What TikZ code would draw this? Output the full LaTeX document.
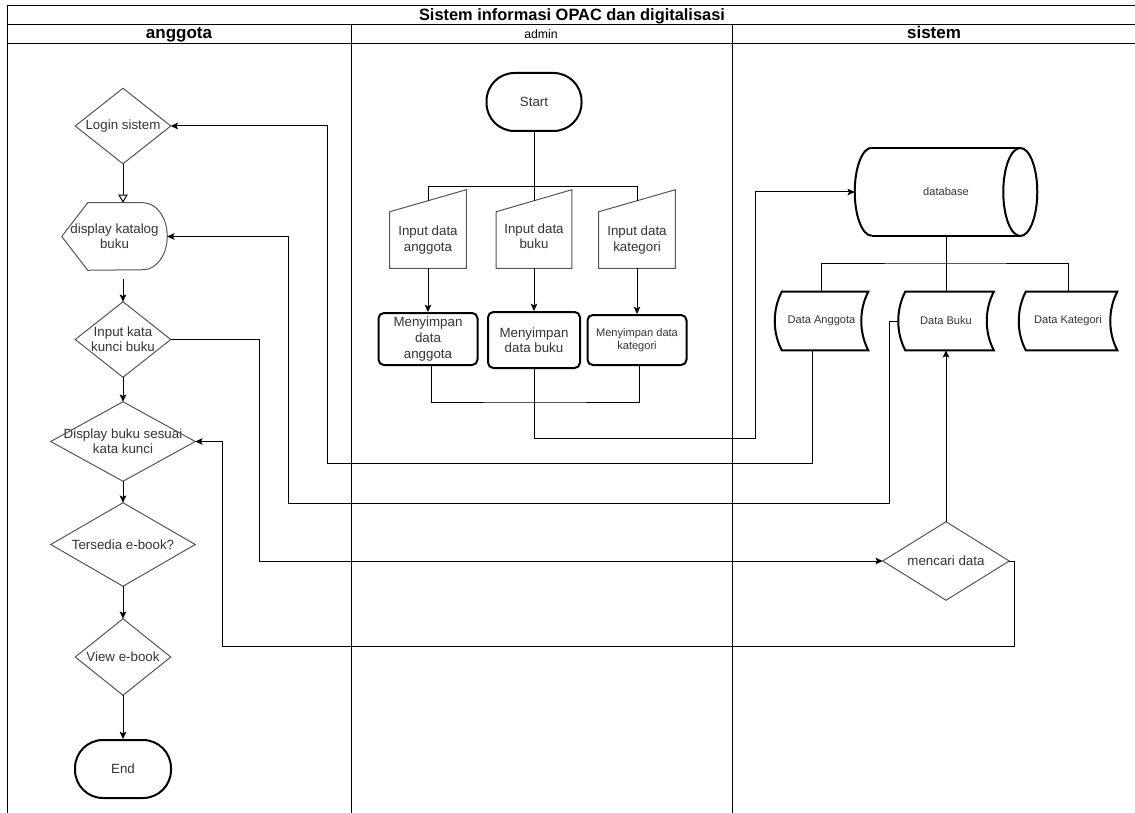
\documentclass[tikz,border=0pt]{standalone}
\usepackage{fontspec}
\setmainfont{Liberation Sans}
\usetikzlibrary{arrows.meta,calc}
\definecolor{txt}{HTML}{333333}
\definecolor{brd}{HTML}{555555}
\tikzset{
  lbl/.style={inner sep=0pt, text=txt, font=\fontsize{10}{11.5}\selectfont, align=center},
  small/.style={lbl, font=\fontsize{8.3}{10}\selectfont},
  sz/.style 2 args={minimum width=#1*0.75pt, minimum height=#2*0.75pt},
  thinb/.style={draw=brd, line width=0.75pt},
  boldb/.style={draw=black, line width=1.5pt},
  conn/.style={draw=black, line width=0.75pt},
  arr/.style={conn, -{Stealth[length=5.5pt,width=5pt,inset=1.2pt]}},
  openarr/.style={conn, -{Triangle[open,length=6pt,width=7pt]}},
  lanel/.style={draw=black, line width=0.75pt},
  hdr/.style={inner sep=0pt, text=black, anchor=base, font=\bfseries\fontsize{12.75}{14}\selectfont}
}
\begin{document}
\begin{tikzpicture}[x=0.75pt,y=-0.75pt]
\useasboundingbox (0,0) rectangle (1135,813);
% swimlane frame
\draw[lanel] (1136,6) -- (7,6) -- (7,813);
\draw[lanel] (7,25) -- (1136,25);
\draw[lanel] (7,44) -- (1136,44);
\draw[lanel] (351,25) -- (351,813);
\draw[lanel] (732,25) -- (732,813);
\node[hdr, font=\bfseries\fontsize{12.3}{14}\selectfont] (title) at (572,21) {Sistem informasi OPAC dan digitalisasi};
\node[hdr] (lane1) at (179,38.5) {anggota};
\node[hdr, font=\fontsize{9.2}{11}\selectfont] (lane2) at (541,39) {admin};
\node[hdr] (lane3) at (934,38.5) {sistem};

% ---------- anggota lane ----------
\node[lbl, sz={95}{75}] (login) at (123,126) {Login sistem};
\node[lbl, sz={105}{67}] (disp) at (114.5,236.5) {display katalog\\buku};
\node[lbl, sz={95}{75}] (kunci) at (123,339.5) {Input kata\\kunci buku};
\node[lbl, sz={144}{79}] (dbuku) at (123,441.5) {Display buku sesuai\\kata kunci};
\node[lbl, sz={144}{83}] (ebook) at (123,544.5) {Tersedia e-book?};
\node[lbl, sz={95}{76}] (view) at (123,657) {View e-book};
\node[lbl, sz={96}{58}, boldb, rounded corners=21pt] (end) at (123,769) {End};

\foreach \n in {login,kunci,dbuku,ebook,view}
  \draw[thinb] (\n.west) -- (\n.north) -- (\n.east) -- (\n.south) -- cycle;
\draw[thinb] (disp.west) -- ([xshift=19.5pt]disp.north west) -- ([xshift=-18pt]disp.north east)
  arc[start angle=90, end angle=-90, x radius=18pt, y radius=25.125pt]
  -- ([xshift=19.5pt]disp.south west) -- cycle;

% ---------- admin lane ----------
\node[lbl, sz={95}{58}, boldb, rounded corners=21pt] (start) at (534,102) {Start};
\node[sz={76}{78}, inner sep=0pt] (in1) at (428,229) {};
\node[sz={75}{78}, inner sep=0pt] (in2) at (534,229) {};
\node[sz={76}{78}, inner sep=0pt] (in3) at (637,229) {};
\foreach \n in {in1,in2,in3}
  \draw[thinb] ([yshift=-16.5pt]\n.north west) -- (\n.north east) -- (\n.south east) -- (\n.south west) -- cycle;
\node[lbl] (in1txt) at (428,240) {Input data\\anggota};
\node[lbl] (in2txt) at (534,236) {Input data\\buku};
\node[lbl] (in3txt) at (637,240) {Input data\\kategori};

\node[lbl, sz={99}{52}, boldb, rounded corners=4pt, font=\fontsize{10}{12}\selectfont] (s1) at (428,339) {Menyimpan\\data\\anggota};
\node[lbl, sz={92}{56}, boldb, rounded corners=4pt] (s2) at (534,340) {Menyimpan\\data buku};
\node[small, sz={99}{50}, boldb, rounded corners=4pt] (s3) at (637,340) {Menyimpan data\\kategori};

% ---------- sistem lane ----------
\node[small, sz={182}{88}] (db) at (946,192) {database};
\draw[boldb] ([xshift=12.75pt]db.north west) -- ([xshift=-12.75pt]db.north east);
\draw[boldb] ([xshift=12.75pt]db.south west) -- ([xshift=-12.75pt]db.south east);
\draw[boldb] ([xshift=12.75pt]db.north west) arc[start angle=90, end angle=270, x radius=12.75pt, y radius=33pt];
\draw[boldb] ([xshift=-12.75pt]db.east) ellipse[x radius=12.75pt, y radius=33pt];

\node[small, sz={93}{58}] (da) at (821.5,321) {Data Anggota};
\node[small, sz={95}{58}] (dbk) at (946,321) {Data Buku};
\node[small, sz={98}{58}] (dk) at (1068,321) {Data Kategori};
\foreach \n in {da,dbk,dk}
  \draw[boldb] ([xshift=5.25pt]\n.north west) -- (\n.north east)
    .. controls +(-7pt,-13.5pt) and +(-7pt,13.5pt) .. (\n.south east)
    -- ([xshift=5.25pt]\n.south west)
    .. controls +(-7pt,13.5pt) and +(-7pt,-13.5pt) .. ([xshift=5.25pt]\n.north west) -- cycle;

\node[lbl, sz={126}{78}] (cari) at (946,561) {mencari data};
\draw[thinb] (cari.west) -- (cari.north) -- (cari.east) -- (cari.south) -- cycle;

% ---------- connectors ----------
\draw[openarr] (login.south) -- (login.south |- disp.north);
\coordinate (dout) at (123,279);
\draw[arr] (dout) -- (kunci.north);
\draw[arr] (kunci.south) -- (dbuku.north);
\draw[arr] (dbuku.south) -- (ebook.north);
\draw[arr] (ebook.south) -- (view.north);
\draw[arr] (view.south) -- (end.north);

\coordinate (split) at (534,187);
\draw[conn] (start.south) -- (split);
\draw[conn] (split) -| ($(in1.north)+(0,11)$);
\draw[conn] (split) -- ($(in2.north)+(0,11)$);
\draw[conn] (split) -| ($(in3.north)+(0,11)$);
\draw[arr] (in1.south) -- (s1.north);
\draw[arr] (in2.south) -- (s2.north);
\draw[arr] (in3.south) -- (s3.north);

\coordinate (join) at (534,402);
\draw[conn] ([xshift=2.25pt]s1.south) |- (join) -| ([xshift=1.5pt]s3.south);
\coordinate (b1) at (755,438);
\draw[arr] (s2.south) |- (b1) |- (db.west);

\coordinate (dbj) at (946,263);
\draw[conn] (db.south) -- (dbk.north);
\draw[conn] (da.north) |- (dbj) -| (dk.north);

\coordinate (r1) at (327,463);
\draw[arr] ([xshift=-7pt]da.south) |- (r1) |- (login.east);
\coordinate (r2a) at (889,503);
\coordinate (r2b) at (288,503);
\draw[arr] (dbk.west) -| (r2a) -- (r2b) |- (disp.east);
\coordinate (r3) at (259,561);
\draw[arr] (kunci.east) -| (r3) -- (cari.west);
\coordinate (r4a) at (1014,646);
\coordinate (r4b) at (222,646);
\draw[arr] (cari.east) -| (r4a) -- (r4b) |- (dbuku.east);
\draw[arr] (cari.north) -- (cari.north |- dbk.south);
\end{tikzpicture}
\end{document}
